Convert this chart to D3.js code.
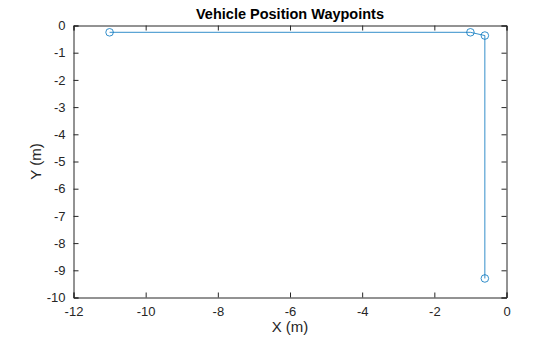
<!DOCTYPE html>
<html><head><meta charset="utf-8">
<script src="https://cdn.jsdelivr.net/npm/d3@7"></script>
<style>body{margin:0;background:#fff}svg{display:block}text{font-family:"Liberation Sans",Arial,sans-serif}</style>
</head><body>
<svg id="c" width="560" height="337"></svg>
<script>
const xs = [-11, -1, -0.6, -0.6];
const ys = [-0.25, -0.25, -0.37, -9.3];
const xTicks = [-12, -10, -8, -6, -4, -2, 0];
const yTicks = [0, -1, -2, -3, -4, -5, -6, -7, -8, -9, -10];
const title = "Vehicle Position Waypoints";
const xLabel = "X (m)";
const yLabel = "Y (m)";

const L = 73.5, R = 506.5, T = 25.5, B = 297.5;
const svg = d3.select("#c");
const x = d3.scaleLinear().domain([-12, 0]).range([L, R]);
const y = d3.scaleLinear().domain([-10, 0]).range([B, T]);
const col = "#262626";
const fmt = d => d3.format("d")(d).replace("−", "-");

const gx = svg.append("g").attr("transform", `translate(0,${B})`)
  .call(d3.axisBottom(x).tickValues(xTicks).tickSize(-5).tickPadding(9).tickFormat(fmt));
const gxt = svg.append("g").attr("transform", `translate(0,${T})`)
  .call(d3.axisTop(x).tickValues(xTicks).tickSize(-5).tickFormat(""));
const gy = svg.append("g").attr("transform", `translate(${L},0)`)
  .call(d3.axisLeft(y).tickValues(yTicks).tickSize(-5).tickPadding(8).tickFormat(fmt));
const gyr = svg.append("g").attr("transform", `translate(${R},0)`)
  .call(d3.axisRight(y).tickValues(yTicks).tickSize(-5).tickFormat(""));
[gx, gxt, gy, gyr].forEach(g => {
  g.select(".domain").attr("stroke", col).attr("stroke-width", 1);
  g.selectAll(".tick line").attr("stroke", col);
  g.selectAll("text").attr("fill", col).attr("font-size", 13).attr("font-family", "Liberation Sans, Arial, sans-serif");
});

const pts = xs.map((v, i) => [v, ys[i]]);
svg.append("path").datum(pts)
  .attr("fill", "none").attr("stroke", "#0072BD").attr("stroke-width", 0.8)
  .attr("d", d3.line().x(d => x(d[0])).y(d => y(d[1])));
svg.selectAll("circle.p").data(pts).enter().append("circle")
  .attr("cx", d => x(d[0])).attr("cy", d => y(d[1])).attr("r", 3.8)
  .attr("fill", "none").attr("stroke", "#0072BD").attr("stroke-width", 0.8);

svg.append("text").attr("x", (L + R) / 2).attr("y", 18.5).attr("text-anchor", "middle")
  .attr("font-weight", "bold").attr("font-size", 14.5).attr("fill", "#000").text(title);
svg.append("text").attr("x", (L + R) / 2).attr("y", 332).attr("text-anchor", "middle")
  .attr("font-size", 15).attr("fill", col).text(xLabel);
svg.append("text").attr("transform", `translate(41,${(T + B) / 2}) rotate(-90)`).attr("text-anchor", "middle")
  .attr("font-size", 15).attr("fill", col).text(yLabel);
</script>
</body></html>
